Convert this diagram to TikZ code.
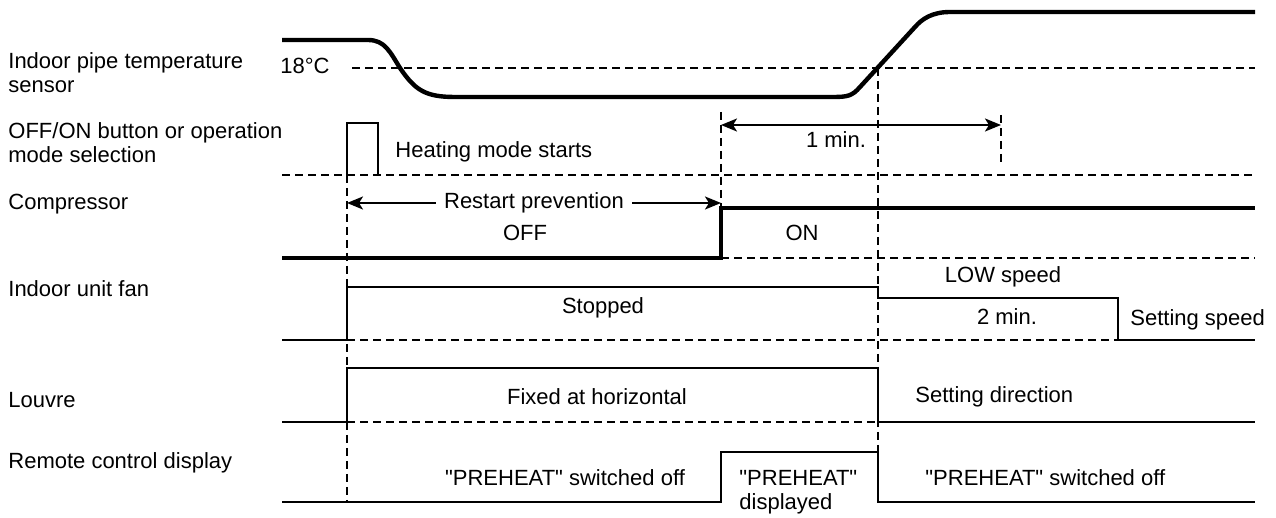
\documentclass[tikz,border=0pt]{standalone}
\usepackage{fontspec}
\setmainfont{Liberation Sans}
\usetikzlibrary{arrows.meta}

\begin{document}
\begin{tikzpicture}[x=0.5pt, y=-0.5pt,
		lane/.style={anchor=west, align=left, inner sep=0pt, font=\fontsize{11}{12}\selectfont},
		txt/.style={inner sep=0pt, font=\fontsize{11}{12}\selectfont},
		sig/.style={line width=1.2pt},
		bold/.style={line width=2.2pt},
		guide/.style={line width=1pt, dash pattern=on 4pt off 2.5pt},
		span/.style={line width=1pt, {Stealth[length=8pt,width=6.5pt,inset=2pt]}-{Stealth[length=8pt,width=6.5pt,inset=2pt]}}]

	\useasboundingbox (0,0) rectangle (1276,518);

	% Lane names
	\node[lane] (lpipe) at (8,73) {Indoor pipe temperature\\sensor};
	\node[lane] (lbtn) at (8,143) {OFF/ON button or operation\\mode selection};
	\node[lane] (lcomp) at (8,204) {Compressor};
	\node[lane] (lfan) at (8,289) {Indoor unit fan};
	\node[lane] (llouv) at (8,400) {Louvre};
	\node[lane] (lrem) at (8,463) {Remote control display};

	% Guides
	\draw[guide] (352,68) -- (1255,68);
	\draw[guide] (282,175) -- (1255,175);
	\draw[guide] (347,175) -- (347,502);
	\draw[guide] (721,112) -- (721,208);
	\draw[guide] (878,68) -- (878,502);
	\draw[guide] (1001,115) -- (1001,163);
	\draw[guide] (721,258) -- (1255,258);
	\draw[guide] (347,340) -- (1118,340);
	\draw[guide] (347,422) -- (878,422);

	% Pipe temperature
	\node[txt] (tempc) at (305,66) {18\textdegree C};
	\draw[bold] (282,40) -- (368,40) .. controls (385,40) and (390,52) .. (400,68)
		.. controls (415,90) and (425,97) .. (455,97) -- (832,97)
		.. controls (848,97) and (852,96) .. (860,87) -- (915,27)
		.. controls (922,19) and (932,12) .. (950,12) -- (1255,12);

	% Button
	\draw[sig] (347,175) -- (347,123) -- (378,123) -- (378,175);
	\node[txt, anchor=west] (heat) at (395,152) {Heating mode starts};
	\coordinate (m1) at (721,125);
	\coordinate (m2) at (1001,125);
	\draw[span] (m1) -- (m2);
	\node[txt] (onemin) at (836,140) {1 min.};

	% Compressor
	\coordinate (r1) at (347,203);
	\coordinate (r2) at (721,203);
	\draw[span] (r1) -- (r2) node[midway, txt, fill=white, inner xsep=4pt] (restart) {Restart prevention};
	\draw[bold] (282,258) -- (721,258) -- (721,208) -- (1255,208);
	\node[txt] (off) at (525,233) {OFF};
	\node[txt] (on) at (802,233) {ON};

	% Indoor fan
	\draw[sig] (282,340) -- (347,340) -- (347,287) -- (878,287) -- (878,298)
		-- (1118,298) -- (1118,340) -- (1255,340);
	\node[txt] (stopped) at (603,308) {Stopped};
	\node[txt] (low) at (1003,277) {LOW speed};
	\node[txt] (twomin) at (1007,317) {2 min.};
	\node[txt, anchor=west] (setspd) at (1130,320) {Setting speed};

	% Louvre
	\draw[sig] (282,422) -- (347,422) -- (347,368) -- (878,368) -- (878,422) -- (1255,422);
	\node[txt] (fixed) at (597,397) {Fixed at horizontal};
	\node[txt, anchor=west] (setdir) at (915,397) {Setting direction};

	% Remote display
	\draw[sig] (282,502) -- (721,502) -- (721,452) -- (878,452) -- (878,502) -- (1255,502);
	\node[txt] (pre1) at (565,478) {\textquotedbl PREHEAT\textquotedbl{} switched off};
	\node[txt, anchor=north west, align=left] (predisp) at (739,470) {\textquotedbl PREHEAT\textquotedbl\\displayed};
	\node[txt, anchor=west] (pre2) at (925,478) {\textquotedbl PREHEAT\textquotedbl{} switched off};

\end{tikzpicture}
\end{document}
